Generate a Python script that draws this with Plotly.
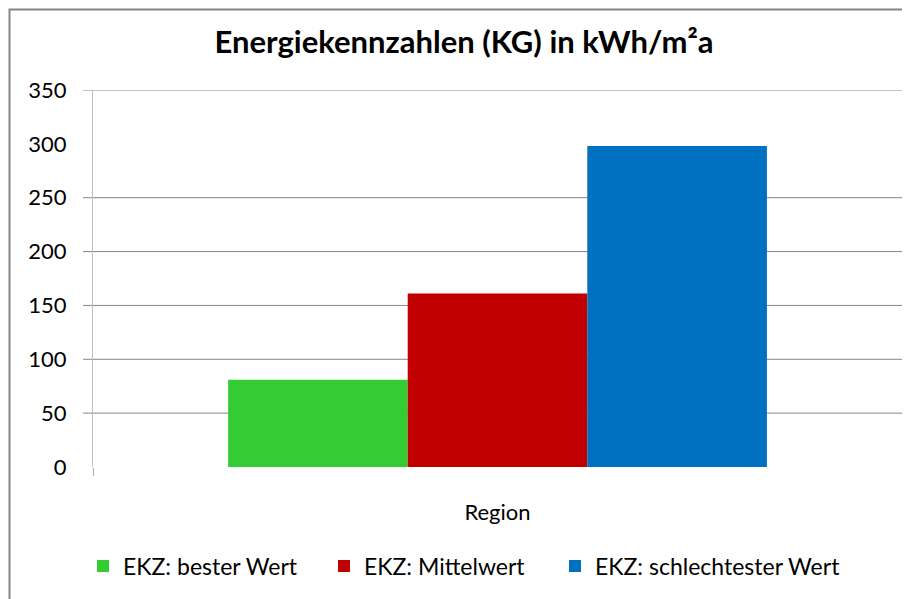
import plotly.graph_objects as go

# ---- data ----
categories = ["Region"]
series_names = ["EKZ: bester Wert", "EKZ: Mittelwert", "EKZ: schlechtester Wert"]
series_values = [[81], [161], [298]]
series_colors = ["#33cc33", "#c00000", "#0070c0"]
legend_widths = [196, 186, 250]
y_ticks = [0, 50, 100, 150, 200, 250, 300, 350]
gridline_values = [50, 100, 150, 200, 250, 350]
title_text = "Energiekennzahlen (KG) in kWh/m²a"

OFF = 8  # page body margin
W, H = 910, 599
# plot area in page pixels: x 93..902, y 90..467
L = 93 - OFF
T = 90 - OFF
PW, PH = 902 - 93, 467 - 90
R = W - L - PW
B = H - T - PH


def px_x(p):  # page pixel -> x paper
    return (p - OFF - L) / PW


def px_y(p):  # page pixel -> y paper
    return (T + PH - (p - OFF)) / PH


FONT = "Lato"

fig = go.Figure()
for name, vals, col, lw in zip(series_names, series_values, series_colors, legend_widths):
    fig.add_trace(go.Bar(x=categories, y=vals, name=name, legendwidth=lw,
                         marker=dict(color=col, line=dict(width=0))))

shapes = []
for g in gridline_values:
    shapes.append(dict(type="line", xref="paper", yref="y", x0=px_x(83), x1=1, y0=g, y1=g,
                       line=dict(color="#868686", width=1), layer="below"))
shapes.append(dict(type="rect", xref="paper", yref="paper",
                   x0=px_x(OFF + 1.5), x1=px_x(916), y0=px_y(610), y1=px_y(OFF + 1.5),
                   line=dict(color="#868686", width=2), fillcolor="rgba(0,0,0,0)"))

fig.update_layout(
    width=W, height=H,
    margin=dict(l=L, r=R, t=T, b=B, pad=0),
    paper_bgcolor="white", plot_bgcolor="white",
    barmode="group", bargap=0.334, bargroupgap=0,
    title=dict(text=title_text, x=(464 - OFF) / W, xanchor="center",
               y=1 - (42 - OFF) / H, yanchor="middle",
               font=dict(family=FONT, size=31, color="#000000", weight="bold")),
    font=dict(family=FONT, color="#000000"),
    showlegend=True,
    legend=dict(orientation="h", x=px_x(83), xanchor="left", y=px_y(566), yanchor="middle",
                font=dict(family=FONT, size=23, color="#000000"), traceorder="normal",
                itemwidth=30, bgcolor="rgba(0,0,0,0)"),
    shapes=shapes,
    xaxis=dict(type="category", range=[-0.5, 0.5], showgrid=False, showline=False, zeroline=False,
               ticks="outside", tickson="boundaries", ticklen=8, tickcolor="#a6a6a6",
               tickfont=dict(family=FONT, size=22, color="#000000"), ticklabelstandoff=30),
    yaxis=dict(range=[0, 350], tickvals=y_ticks, showgrid=False, zeroline=False,
               showline=True, linecolor="#bfbfbf", linewidth=1, ticks="",
               tickfont=dict(family=FONT, size=22, color="#000000"), ticklabelstandoff=21),
)

fig.write_html("out.html")
